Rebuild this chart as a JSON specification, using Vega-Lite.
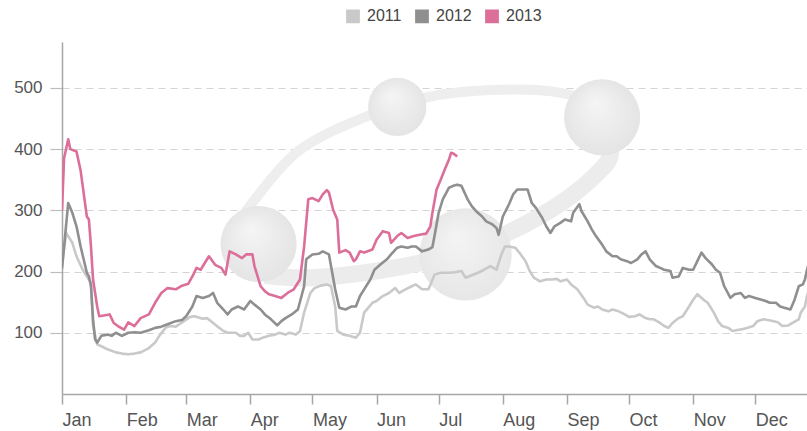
{
  "$schema": "https://vega.github.io/schema/vega-lite/v6.json",
  "width": 745,
  "height": 352,
  "autosize": {"type": "none"},
  "padding": {"left": 62, "top": 42, "right": 0, "bottom": 37},
  "background": "white",
  "config": {
    "view": {"stroke": null},
    "font": "Liberation Sans",
    "legend": {
      "orient": "none",
      "legendX": 283,
      "legendY": -34,
      "direction": "horizontal",
      "symbolType": "square",
      "symbolSize": 150,
      "labelFontSize": 16,
      "labelColor": "#444444",
      "labelFont": "Liberation Sans",
      "labelOffset": 6,
      "columnPadding": 10,
      "title": null
    }
  },
  "datasets": {
    "series": [
      {"date": "2011-01-01", "year": "2011", "value": 210},
      {"date": "2011-01-03", "year": "2011", "value": 263},
      {"date": "2011-01-06", "year": "2011", "value": 247},
      {"date": "2011-01-08", "year": "2011", "value": 225},
      {"date": "2011-01-11", "year": "2011", "value": 203},
      {"date": "2011-01-13", "year": "2011", "value": 192},
      {"date": "2011-01-15", "year": "2011", "value": 182},
      {"date": "2011-01-16", "year": "2011", "value": 111},
      {"date": "2011-01-18", "year": "2011", "value": 81},
      {"date": "2011-01-20", "year": "2011", "value": 78},
      {"date": "2011-01-23", "year": "2011", "value": 73},
      {"date": "2011-01-27", "year": "2011", "value": 68},
      {"date": "2011-01-30", "year": "2011", "value": 66},
      {"date": "2011-02-02", "year": "2011", "value": 65},
      {"date": "2011-02-05", "year": "2011", "value": 66},
      {"date": "2011-02-08", "year": "2011", "value": 68},
      {"date": "2011-02-12", "year": "2011", "value": 75},
      {"date": "2011-02-15", "year": "2011", "value": 84},
      {"date": "2011-02-17", "year": "2011", "value": 95},
      {"date": "2011-02-20", "year": "2011", "value": 108},
      {"date": "2011-02-22", "year": "2011", "value": 111},
      {"date": "2011-02-25", "year": "2011", "value": 110},
      {"date": "2011-02-28", "year": "2011", "value": 117},
      {"date": "2011-03-03", "year": "2011", "value": 126},
      {"date": "2011-03-05", "year": "2011", "value": 127},
      {"date": "2011-03-09", "year": "2011", "value": 123},
      {"date": "2011-03-11", "year": "2011", "value": 124},
      {"date": "2011-03-13", "year": "2011", "value": 119},
      {"date": "2011-03-17", "year": "2011", "value": 108},
      {"date": "2011-03-19", "year": "2011", "value": 103},
      {"date": "2011-03-21", "year": "2011", "value": 100},
      {"date": "2011-03-25", "year": "2011", "value": 100},
      {"date": "2011-03-27", "year": "2011", "value": 95},
      {"date": "2011-03-29", "year": "2011", "value": 95},
      {"date": "2011-03-31", "year": "2011", "value": 100},
      {"date": "2011-04-02", "year": "2011", "value": 89},
      {"date": "2011-04-05", "year": "2011", "value": 89},
      {"date": "2011-04-07", "year": "2011", "value": 92},
      {"date": "2011-04-10", "year": "2011", "value": 95},
      {"date": "2011-04-13", "year": "2011", "value": 97},
      {"date": "2011-04-15", "year": "2011", "value": 100},
      {"date": "2011-04-18", "year": "2011", "value": 97},
      {"date": "2011-04-20", "year": "2011", "value": 100},
      {"date": "2011-04-23", "year": "2011", "value": 97},
      {"date": "2011-04-25", "year": "2011", "value": 103},
      {"date": "2011-04-27", "year": "2011", "value": 133},
      {"date": "2011-04-30", "year": "2011", "value": 165},
      {"date": "2011-05-02", "year": "2011", "value": 173},
      {"date": "2011-05-05", "year": "2011", "value": 177},
      {"date": "2011-05-08", "year": "2011", "value": 179},
      {"date": "2011-05-10", "year": "2011", "value": 176},
      {"date": "2011-05-12", "year": "2011", "value": 143},
      {"date": "2011-05-13", "year": "2011", "value": 103},
      {"date": "2011-05-16", "year": "2011", "value": 97},
      {"date": "2011-05-19", "year": "2011", "value": 95},
      {"date": "2011-05-22", "year": "2011", "value": 92},
      {"date": "2011-05-24", "year": "2011", "value": 100},
      {"date": "2011-05-26", "year": "2011", "value": 133},
      {"date": "2011-05-30", "year": "2011", "value": 149},
      {"date": "2011-06-01", "year": "2011", "value": 152},
      {"date": "2011-06-04", "year": "2011", "value": 160},
      {"date": "2011-06-07", "year": "2011", "value": 165},
      {"date": "2011-06-10", "year": "2011", "value": 173},
      {"date": "2011-06-12", "year": "2011", "value": 165},
      {"date": "2011-06-15", "year": "2011", "value": 171},
      {"date": "2011-06-18", "year": "2011", "value": 176},
      {"date": "2011-06-20", "year": "2011", "value": 179},
      {"date": "2011-06-23", "year": "2011", "value": 171},
      {"date": "2011-06-26", "year": "2011", "value": 171},
      {"date": "2011-06-27", "year": "2011", "value": 178},
      {"date": "2011-06-29", "year": "2011", "value": 195},
      {"date": "2011-07-02", "year": "2011", "value": 198},
      {"date": "2011-07-06", "year": "2011", "value": 198},
      {"date": "2011-07-09", "year": "2011", "value": 199},
      {"date": "2011-07-12", "year": "2011", "value": 201},
      {"date": "2011-07-14", "year": "2011", "value": 190},
      {"date": "2011-07-17", "year": "2011", "value": 194},
      {"date": "2011-07-20", "year": "2011", "value": 198},
      {"date": "2011-07-23", "year": "2011", "value": 203},
      {"date": "2011-07-26", "year": "2011", "value": 209},
      {"date": "2011-07-29", "year": "2011", "value": 203},
      {"date": "2011-07-31", "year": "2011", "value": 225},
      {"date": "2011-08-02", "year": "2011", "value": 241},
      {"date": "2011-08-04", "year": "2011", "value": 241},
      {"date": "2011-08-07", "year": "2011", "value": 239},
      {"date": "2011-08-09", "year": "2011", "value": 231},
      {"date": "2011-08-12", "year": "2011", "value": 217},
      {"date": "2011-08-14", "year": "2011", "value": 201},
      {"date": "2011-08-16", "year": "2011", "value": 190},
      {"date": "2011-08-19", "year": "2011", "value": 184},
      {"date": "2011-08-22", "year": "2011", "value": 187},
      {"date": "2011-08-25", "year": "2011", "value": 187},
      {"date": "2011-08-27", "year": "2011", "value": 188},
      {"date": "2011-08-29", "year": "2011", "value": 184},
      {"date": "2011-09-01", "year": "2011", "value": 187},
      {"date": "2011-09-03", "year": "2011", "value": 179},
      {"date": "2011-09-06", "year": "2011", "value": 171},
      {"date": "2011-09-09", "year": "2011", "value": 157},
      {"date": "2011-09-11", "year": "2011", "value": 146},
      {"date": "2011-09-14", "year": "2011", "value": 141},
      {"date": "2011-09-16", "year": "2011", "value": 143},
      {"date": "2011-09-18", "year": "2011", "value": 138},
      {"date": "2011-09-21", "year": "2011", "value": 135},
      {"date": "2011-09-23", "year": "2011", "value": 138},
      {"date": "2011-09-26", "year": "2011", "value": 135},
      {"date": "2011-09-29", "year": "2011", "value": 130},
      {"date": "2011-10-01", "year": "2011", "value": 126},
      {"date": "2011-10-04", "year": "2011", "value": 127},
      {"date": "2011-10-06", "year": "2011", "value": 130},
      {"date": "2011-10-09", "year": "2011", "value": 124},
      {"date": "2011-10-11", "year": "2011", "value": 122},
      {"date": "2011-10-13", "year": "2011", "value": 122},
      {"date": "2011-10-16", "year": "2011", "value": 116},
      {"date": "2011-10-18", "year": "2011", "value": 111},
      {"date": "2011-10-20", "year": "2011", "value": 108},
      {"date": "2011-10-22", "year": "2011", "value": 116},
      {"date": "2011-10-25", "year": "2011", "value": 124},
      {"date": "2011-10-27", "year": "2011", "value": 127},
      {"date": "2011-10-30", "year": "2011", "value": 143},
      {"date": "2011-11-01", "year": "2011", "value": 154},
      {"date": "2011-11-03", "year": "2011", "value": 163},
      {"date": "2011-11-06", "year": "2011", "value": 154},
      {"date": "2011-11-08", "year": "2011", "value": 149},
      {"date": "2011-11-11", "year": "2011", "value": 133},
      {"date": "2011-11-13", "year": "2011", "value": 119},
      {"date": "2011-11-15", "year": "2011", "value": 111},
      {"date": "2011-11-18", "year": "2011", "value": 108},
      {"date": "2011-11-20", "year": "2011", "value": 103},
      {"date": "2011-11-23", "year": "2011", "value": 105},
      {"date": "2011-11-25", "year": "2011", "value": 106},
      {"date": "2011-11-27", "year": "2011", "value": 108},
      {"date": "2011-11-30", "year": "2011", "value": 111},
      {"date": "2011-12-02", "year": "2011", "value": 119},
      {"date": "2011-12-05", "year": "2011", "value": 122},
      {"date": "2011-12-07", "year": "2011", "value": 121},
      {"date": "2011-12-10", "year": "2011", "value": 119},
      {"date": "2011-12-12", "year": "2011", "value": 117},
      {"date": "2011-12-14", "year": "2011", "value": 111},
      {"date": "2011-12-17", "year": "2011", "value": 112},
      {"date": "2011-12-19", "year": "2011", "value": 116},
      {"date": "2011-12-22", "year": "2011", "value": 122},
      {"date": "2011-12-23", "year": "2011", "value": 133},
      {"date": "2011-12-25", "year": "2011", "value": 143},
      {"date": "2011-12-26", "year": "2011", "value": 160},
      {"date": "2011-12-27", "year": "2011", "value": 170},

      {"date": "2012-01-01", "year": "2012", "value": 205},
      {"date": "2012-01-04", "year": "2012", "value": 312},
      {"date": "2012-01-06", "year": "2012", "value": 296},
      {"date": "2012-01-08", "year": "2012", "value": 274},
      {"date": "2012-01-10", "year": "2012", "value": 241},
      {"date": "2012-01-13", "year": "2012", "value": 198},
      {"date": "2012-01-14", "year": "2012", "value": 192},
      {"date": "2012-01-15", "year": "2012", "value": 176},
      {"date": "2012-01-16", "year": "2012", "value": 122},
      {"date": "2012-01-17", "year": "2012", "value": 89},
      {"date": "2012-01-18", "year": "2012", "value": 84},
      {"date": "2012-01-20", "year": "2012", "value": 95},
      {"date": "2012-01-23", "year": "2012", "value": 97},
      {"date": "2012-01-25", "year": "2012", "value": 95},
      {"date": "2012-01-27", "year": "2012", "value": 100},
      {"date": "2012-01-30", "year": "2012", "value": 95},
      {"date": "2012-02-02", "year": "2012", "value": 100},
      {"date": "2012-02-05", "year": "2012", "value": 101},
      {"date": "2012-02-08", "year": "2012", "value": 100},
      {"date": "2012-02-12", "year": "2012", "value": 104},
      {"date": "2012-02-15", "year": "2012", "value": 108},
      {"date": "2012-02-18", "year": "2012", "value": 110},
      {"date": "2012-02-21", "year": "2012", "value": 114},
      {"date": "2012-02-25", "year": "2012", "value": 119},
      {"date": "2012-02-28", "year": "2012", "value": 121},
      {"date": "2012-03-01", "year": "2012", "value": 127},
      {"date": "2012-03-04", "year": "2012", "value": 143},
      {"date": "2012-03-06", "year": "2012", "value": 160},
      {"date": "2012-03-09", "year": "2012", "value": 157},
      {"date": "2012-03-12", "year": "2012", "value": 160},
      {"date": "2012-03-14", "year": "2012", "value": 165},
      {"date": "2012-03-16", "year": "2012", "value": 149},
      {"date": "2012-03-19", "year": "2012", "value": 138},
      {"date": "2012-03-21", "year": "2012", "value": 130},
      {"date": "2012-03-23", "year": "2012", "value": 138},
      {"date": "2012-03-26", "year": "2012", "value": 143},
      {"date": "2012-03-29", "year": "2012", "value": 138},
      {"date": "2012-04-01", "year": "2012", "value": 152},
      {"date": "2012-04-03", "year": "2012", "value": 146},
      {"date": "2012-04-06", "year": "2012", "value": 138},
      {"date": "2012-04-08", "year": "2012", "value": 130},
      {"date": "2012-04-11", "year": "2012", "value": 122},
      {"date": "2012-04-14", "year": "2012", "value": 112},
      {"date": "2012-04-16", "year": "2012", "value": 119},
      {"date": "2012-04-18", "year": "2012", "value": 124},
      {"date": "2012-04-21", "year": "2012", "value": 130},
      {"date": "2012-04-24", "year": "2012", "value": 138},
      {"date": "2012-04-27", "year": "2012", "value": 176},
      {"date": "2012-04-28", "year": "2012", "value": 220},
      {"date": "2012-05-01", "year": "2012", "value": 228},
      {"date": "2012-05-04", "year": "2012", "value": 229},
      {"date": "2012-05-06", "year": "2012", "value": 233},
      {"date": "2012-05-09", "year": "2012", "value": 228},
      {"date": "2012-05-10", "year": "2012", "value": 209},
      {"date": "2012-05-12", "year": "2012", "value": 171},
      {"date": "2012-05-14", "year": "2012", "value": 141},
      {"date": "2012-05-17", "year": "2012", "value": 138},
      {"date": "2012-05-20", "year": "2012", "value": 143},
      {"date": "2012-05-22", "year": "2012", "value": 143},
      {"date": "2012-05-24", "year": "2012", "value": 160},
      {"date": "2012-05-26", "year": "2012", "value": 171},
      {"date": "2012-05-29", "year": "2012", "value": 187},
      {"date": "2012-05-31", "year": "2012", "value": 203},
      {"date": "2012-06-03", "year": "2012", "value": 212},
      {"date": "2012-06-06", "year": "2012", "value": 220},
      {"date": "2012-06-08", "year": "2012", "value": 228},
      {"date": "2012-06-11", "year": "2012", "value": 239},
      {"date": "2012-06-13", "year": "2012", "value": 241},
      {"date": "2012-06-16", "year": "2012", "value": 239},
      {"date": "2012-06-18", "year": "2012", "value": 241},
      {"date": "2012-06-20", "year": "2012", "value": 241},
      {"date": "2012-06-23", "year": "2012", "value": 233},
      {"date": "2012-06-26", "year": "2012", "value": 236},
      {"date": "2012-06-28", "year": "2012", "value": 240},
      {"date": "2012-06-29", "year": "2012", "value": 258},
      {"date": "2012-07-01", "year": "2012", "value": 296},
      {"date": "2012-07-03", "year": "2012", "value": 318},
      {"date": "2012-07-06", "year": "2012", "value": 337},
      {"date": "2012-07-08", "year": "2012", "value": 340},
      {"date": "2012-07-10", "year": "2012", "value": 342},
      {"date": "2012-07-12", "year": "2012", "value": 340},
      {"date": "2012-07-15", "year": "2012", "value": 318},
      {"date": "2012-07-17", "year": "2012", "value": 307},
      {"date": "2012-07-19", "year": "2012", "value": 299},
      {"date": "2012-07-22", "year": "2012", "value": 290},
      {"date": "2012-07-24", "year": "2012", "value": 282},
      {"date": "2012-07-27", "year": "2012", "value": 277},
      {"date": "2012-07-29", "year": "2012", "value": 271},
      {"date": "2012-07-30", "year": "2012", "value": 260},
      {"date": "2012-08-01", "year": "2012", "value": 290},
      {"date": "2012-08-04", "year": "2012", "value": 310},
      {"date": "2012-08-06", "year": "2012", "value": 326},
      {"date": "2012-08-08", "year": "2012", "value": 334},
      {"date": "2012-08-11", "year": "2012", "value": 334},
      {"date": "2012-08-13", "year": "2012", "value": 334},
      {"date": "2012-08-15", "year": "2012", "value": 312},
      {"date": "2012-08-17", "year": "2012", "value": 304},
      {"date": "2012-08-20", "year": "2012", "value": 288},
      {"date": "2012-08-22", "year": "2012", "value": 274},
      {"date": "2012-08-24", "year": "2012", "value": 263},
      {"date": "2012-08-26", "year": "2012", "value": 274},
      {"date": "2012-08-29", "year": "2012", "value": 280},
      {"date": "2012-08-31", "year": "2012", "value": 285},
      {"date": "2012-09-03", "year": "2012", "value": 282},
      {"date": "2012-09-04", "year": "2012", "value": 296},
      {"date": "2012-09-07", "year": "2012", "value": 310},
      {"date": "2012-09-08", "year": "2012", "value": 299},
      {"date": "2012-09-11", "year": "2012", "value": 282},
      {"date": "2012-09-13", "year": "2012", "value": 269},
      {"date": "2012-09-15", "year": "2012", "value": 258},
      {"date": "2012-09-18", "year": "2012", "value": 244},
      {"date": "2012-09-20", "year": "2012", "value": 233},
      {"date": "2012-09-23", "year": "2012", "value": 225},
      {"date": "2012-09-25", "year": "2012", "value": 225},
      {"date": "2012-09-27", "year": "2012", "value": 220},
      {"date": "2012-09-30", "year": "2012", "value": 217},
      {"date": "2012-10-02", "year": "2012", "value": 214},
      {"date": "2012-10-05", "year": "2012", "value": 220},
      {"date": "2012-10-07", "year": "2012", "value": 228},
      {"date": "2012-10-09", "year": "2012", "value": 233},
      {"date": "2012-10-11", "year": "2012", "value": 220},
      {"date": "2012-10-14", "year": "2012", "value": 209},
      {"date": "2012-10-16", "year": "2012", "value": 206},
      {"date": "2012-10-18", "year": "2012", "value": 203},
      {"date": "2012-10-21", "year": "2012", "value": 201},
      {"date": "2012-10-22", "year": "2012", "value": 190},
      {"date": "2012-10-25", "year": "2012", "value": 192},
      {"date": "2012-10-27", "year": "2012", "value": 206},
      {"date": "2012-10-30", "year": "2012", "value": 203},
      {"date": "2012-11-01", "year": "2012", "value": 203},
      {"date": "2012-11-03", "year": "2012", "value": 217},
      {"date": "2012-11-05", "year": "2012", "value": 231},
      {"date": "2012-11-07", "year": "2012", "value": 222},
      {"date": "2012-11-10", "year": "2012", "value": 212},
      {"date": "2012-11-12", "year": "2012", "value": 203},
      {"date": "2012-11-14", "year": "2012", "value": 198},
      {"date": "2012-11-16", "year": "2012", "value": 176},
      {"date": "2012-11-19", "year": "2012", "value": 157},
      {"date": "2012-11-21", "year": "2012", "value": 163},
      {"date": "2012-11-24", "year": "2012", "value": 165},
      {"date": "2012-11-26", "year": "2012", "value": 157},
      {"date": "2012-11-28", "year": "2012", "value": 160},
      {"date": "2012-12-01", "year": "2012", "value": 157},
      {"date": "2012-12-04", "year": "2012", "value": 154},
      {"date": "2012-12-06", "year": "2012", "value": 152},
      {"date": "2012-12-08", "year": "2012", "value": 149},
      {"date": "2012-12-11", "year": "2012", "value": 149},
      {"date": "2012-12-13", "year": "2012", "value": 143},
      {"date": "2012-12-15", "year": "2012", "value": 141},
      {"date": "2012-12-18", "year": "2012", "value": 138},
      {"date": "2012-12-20", "year": "2012", "value": 154},
      {"date": "2012-12-22", "year": "2012", "value": 176},
      {"date": "2012-12-24", "year": "2012", "value": 179},
      {"date": "2012-12-25", "year": "2012", "value": 187},
      {"date": "2012-12-26", "year": "2012", "value": 203},
      {"date": "2012-12-27", "year": "2012", "value": 215},

      {"date": "2013-01-01", "year": "2013", "value": 300},
      {"date": "2013-01-02", "year": "2013", "value": 385},
      {"date": "2013-01-04", "year": "2013", "value": 416},
      {"date": "2013-01-05", "year": "2013", "value": 400},
      {"date": "2013-01-08", "year": "2013", "value": 396},
      {"date": "2013-01-10", "year": "2013", "value": 365},
      {"date": "2013-01-13", "year": "2013", "value": 290},
      {"date": "2013-01-14", "year": "2013", "value": 285},
      {"date": "2013-01-15", "year": "2013", "value": 241},
      {"date": "2013-01-16", "year": "2013", "value": 187},
      {"date": "2013-01-18", "year": "2013", "value": 143},
      {"date": "2013-01-19", "year": "2013", "value": 127},
      {"date": "2013-01-24", "year": "2013", "value": 130},
      {"date": "2013-01-26", "year": "2013", "value": 116},
      {"date": "2013-01-28", "year": "2013", "value": 111},
      {"date": "2013-01-31", "year": "2013", "value": 105},
      {"date": "2013-02-02", "year": "2013", "value": 117},
      {"date": "2013-02-05", "year": "2013", "value": 111},
      {"date": "2013-02-08", "year": "2013", "value": 124},
      {"date": "2013-02-12", "year": "2013", "value": 130},
      {"date": "2013-02-15", "year": "2013", "value": 149},
      {"date": "2013-02-18", "year": "2013", "value": 165},
      {"date": "2013-02-21", "year": "2013", "value": 173},
      {"date": "2013-02-25", "year": "2013", "value": 171},
      {"date": "2013-02-28", "year": "2013", "value": 177},
      {"date": "2013-03-02", "year": "2013", "value": 180},
      {"date": "2013-03-04", "year": "2013", "value": 192},
      {"date": "2013-03-06", "year": "2013", "value": 206},
      {"date": "2013-03-08", "year": "2013", "value": 203},
      {"date": "2013-03-12", "year": "2013", "value": 225},
      {"date": "2013-03-15", "year": "2013", "value": 211},
      {"date": "2013-03-18", "year": "2013", "value": 206},
      {"date": "2013-03-20", "year": "2013", "value": 195},
      {"date": "2013-03-22", "year": "2013", "value": 233},
      {"date": "2013-03-25", "year": "2013", "value": 228},
      {"date": "2013-03-28", "year": "2013", "value": 222},
      {"date": "2013-03-30", "year": "2013", "value": 228},
      {"date": "2013-04-02", "year": "2013", "value": 228},
      {"date": "2013-04-03", "year": "2013", "value": 209},
      {"date": "2013-04-06", "year": "2013", "value": 176},
      {"date": "2013-04-08", "year": "2013", "value": 168},
      {"date": "2013-04-10", "year": "2013", "value": 163},
      {"date": "2013-04-13", "year": "2013", "value": 160},
      {"date": "2013-04-16", "year": "2013", "value": 157},
      {"date": "2013-04-19", "year": "2013", "value": 165},
      {"date": "2013-04-22", "year": "2013", "value": 171},
      {"date": "2013-04-25", "year": "2013", "value": 187},
      {"date": "2013-04-27", "year": "2013", "value": 241},
      {"date": "2013-04-29", "year": "2013", "value": 318},
      {"date": "2013-05-01", "year": "2013", "value": 320},
      {"date": "2013-05-04", "year": "2013", "value": 315},
      {"date": "2013-05-06", "year": "2013", "value": 326},
      {"date": "2013-05-08", "year": "2013", "value": 333},
      {"date": "2013-05-09", "year": "2013", "value": 329},
      {"date": "2013-05-11", "year": "2013", "value": 301},
      {"date": "2013-05-13", "year": "2013", "value": 285},
      {"date": "2013-05-14", "year": "2013", "value": 231},
      {"date": "2013-05-17", "year": "2013", "value": 235},
      {"date": "2013-05-19", "year": "2013", "value": 231},
      {"date": "2013-05-21", "year": "2013", "value": 217},
      {"date": "2013-05-22", "year": "2013", "value": 220},
      {"date": "2013-05-24", "year": "2013", "value": 233},
      {"date": "2013-05-26", "year": "2013", "value": 231},
      {"date": "2013-05-30", "year": "2013", "value": 236},
      {"date": "2013-06-01", "year": "2013", "value": 252},
      {"date": "2013-06-04", "year": "2013", "value": 266},
      {"date": "2013-06-07", "year": "2013", "value": 263},
      {"date": "2013-06-08", "year": "2013", "value": 247},
      {"date": "2013-06-11", "year": "2013", "value": 258},
      {"date": "2013-06-13", "year": "2013", "value": 263},
      {"date": "2013-06-16", "year": "2013", "value": 255},
      {"date": "2013-06-19", "year": "2013", "value": 258},
      {"date": "2013-06-23", "year": "2013", "value": 261},
      {"date": "2013-06-25", "year": "2013", "value": 262},
      {"date": "2013-06-27", "year": "2013", "value": 274},
      {"date": "2013-06-28", "year": "2013", "value": 296},
      {"date": "2013-06-30", "year": "2013", "value": 334},
      {"date": "2013-07-02", "year": "2013", "value": 350},
      {"date": "2013-07-04", "year": "2013", "value": 367},
      {"date": "2013-07-06", "year": "2013", "value": 383},
      {"date": "2013-07-07", "year": "2013", "value": 394},
      {"date": "2013-07-08", "year": "2013", "value": 393},
      {"date": "2013-07-10", "year": "2013", "value": 388}
    ],
    "ring": [
      {"date": "2012-04-03", "value": 317},
      {"date": "2012-04-25", "value": 399},
      {"date": "2012-05-27", "value": 453},
      {"date": "2012-06-27", "value": 486},
      {"date": "2012-07-31", "value": 497},
      {"date": "2012-08-29", "value": 492},
      {"date": "2012-09-17", "value": 467},
      {"date": "2012-09-24", "value": 415},
      {"date": "2012-09-19", "value": 374},
      {"date": "2012-08-31", "value": 317},
      {"date": "2012-08-04", "value": 265},
      {"date": "2012-07-06", "value": 227},
      {"date": "2012-06-03", "value": 203},
      {"date": "2012-04-30", "value": 190},
      {"date": "2012-04-06", "value": 195},
      {"date": "2012-03-25", "value": 227},
      {"date": "2012-03-27", "value": 276}
    ],
    "ringFront": [
      {"date": "2012-09-22", "value": 395},
      {"date": "2012-09-19", "value": 372},
      {"date": "2012-08-31", "value": 316},
      {"date": "2012-08-04", "value": 264},
      {"date": "2012-07-06", "value": 226},
      {"date": "2012-06-03", "value": 202},
      {"date": "2012-04-30", "value": 190},
      {"date": "2012-04-08", "value": 194}
    ],
    "spheres": [
      {"name": "left", "date": "2012-04-05", "value": 245},
      {"name": "top", "date": "2012-06-11", "value": 469},
      {"name": "right", "date": "2012-09-18", "value": 452},
      {"name": "center", "date": "2012-07-14", "value": 228}
    ]
  },
  "encoding": {
    "x": {
      "field": "date",
      "type": "temporal",
      "timeUnit": "utcmonthdate",
      "title": null,
      "scale": {
        "domain": [
          {"year": 2012, "month": 1, "date": 1, "utc": true},
          {"year": 2012, "month": 12, "date": 26, "utc": true}
        ]
      },
      "axis": {
        "values": [
          {"year": 2012, "month": 1, "date": 1, "utc": true},
          {"year": 2012, "month": 2, "date": 1, "utc": true},
          {"year": 2012, "month": 3, "date": 1, "utc": true},
          {"year": 2012, "month": 4, "date": 1, "utc": true},
          {"year": 2012, "month": 5, "date": 1, "utc": true},
          {"year": 2012, "month": 6, "date": 1, "utc": true},
          {"year": 2012, "month": 7, "date": 1, "utc": true},
          {"year": 2012, "month": 8, "date": 1, "utc": true},
          {"year": 2012, "month": 9, "date": 1, "utc": true},
          {"year": 2012, "month": 10, "date": 1, "utc": true},
          {"year": 2012, "month": 11, "date": 1, "utc": true},
          {"year": 2012, "month": 12, "date": 1, "utc": true}
        ],
        "format": "%b",
        "labelAlign": "left",
        "labelBaseline": "top",
        "labelPadding": 7,
        "labelFontSize": 18,
        "labelFont": "Liberation Sans",
        "labelColor": "#555555",
        "labelOverlap": false,
        "labelFlush": false,
        "tickSize": 10,
        "tickColor": "#a6a6a6",
        "tickWidth": 1.5,
        "domainColor": "#a6a6a6",
        "domainWidth": 1.5,
        "grid": false
      }
    },
    "y": {
      "field": "value",
      "type": "quantitative",
      "title": null,
      "scale": {"domain": [0, 575], "nice": false},
      "axis": {
        "values": [100, 200, 300, 400, 500],
        "labelPadding": 8,
        "labelFontSize": 17,
        "labelFont": "Liberation Sans",
        "labelColor": "#555555",
        "tickSize": 12,
        "tickColor": "#bdbdbd",
        "tickWidth": 1.2,
        "domainColor": "#a6a6a6",
        "domainWidth": 1.5,
        "grid": true,
        "gridColor": "#d4d4d4",
        "gridDash": [7, 5],
        "gridWidth": 1.2
      }
    }
  },
  "layer": [
    {
      "data": {"name": "ring"},
      "mark": {"type": "line", "interpolate": "cardinal-closed", "stroke": "#eeeeee", "strokeWidth": 10, "clip": true},
      "encoding": {"order": {"value": null}}
    },
    {
      "data": {"name": "ringFront"},
      "mark": {"type": "line", "interpolate": "cardinal", "stroke": "#ececec", "strokeWidth": 17, "strokeCap": "butt", "clip": true},
      "encoding": {"order": {"value": null}}
    },
    {
      "data": {"name": "spheres"},
      "transform": [{"filter": "datum.name === 'left' || datum.name === 'right'"}],
      "mark": {
        "type": "circle", "size": 5800, "opacity": 1, "clip": true,
        "fill": {"gradient": "radial", "x1": 0.4, "y1": 0.3, "r1": 0, "x2": 0.5, "y2": 0.5, "r2": 0.55,
                 "stops": [{"offset": 0, "color": "#f5f5f5"}, {"offset": 1, "color": "#e3e3e3"}]}
      }
    },
    {
      "data": {"name": "spheres"},
      "transform": [{"filter": "datum.name === 'top'"}],
      "mark": {
        "type": "circle", "size": 3400, "opacity": 1, "clip": true,
        "fill": {"gradient": "radial", "x1": 0.4, "y1": 0.3, "r1": 0, "x2": 0.5, "y2": 0.5, "r2": 0.55,
                 "stops": [{"offset": 0, "color": "#f5f5f5"}, {"offset": 1, "color": "#e3e3e3"}]}
      }
    },
    {
      "data": {"name": "spheres"},
      "transform": [{"filter": "datum.name === 'center'"}],
      "mark": {
        "type": "circle", "size": 8500, "opacity": 1, "clip": true,
        "fill": {"gradient": "radial", "x1": 0.4, "y1": 0.3, "r1": 0, "x2": 0.5, "y2": 0.5, "r2": 0.55,
                 "stops": [{"offset": 0, "color": "#f4f4f4"}, {"offset": 1, "color": "#e6e6e6"}]}
      }
    },
    {
      "data": {"name": "series"},
      "mark": {"type": "line", "strokeWidth": 2.6, "clip": true, "strokeJoin": "round"},
      "encoding": {
        "color": {
          "field": "year",
          "type": "nominal",
          "scale": {"domain": ["2011", "2012", "2013"], "range": ["#c9c9c9", "#8f8f8f", "#dc6e9a"]},
          "legend": {
            "encode": {
              "symbols": {"update": {"fill": {"scale": "color", "field": "value"}, "stroke": {"value": "transparent"}}}
            }
          }
        }
      }
    }
  ]
}
